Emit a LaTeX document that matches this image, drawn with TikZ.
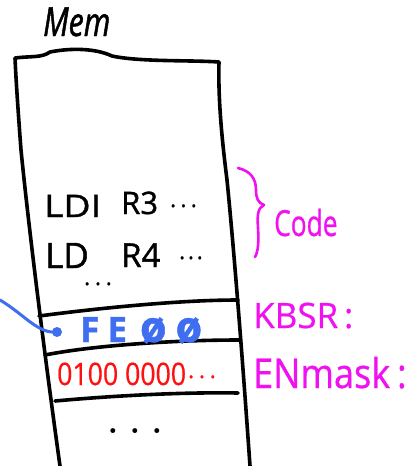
\documentclass[tikz,border=0pt]{standalone}
\usepackage{fontspec}
\newfontfamily\penfont{Open Sans}[FakeBold=1.2]
\newfontfamily\penthin{Open Sans}[FakeBold=0.6]
\definecolor{penblue}{HTML}{3F6FF0}
\definecolor{penred}{HTML}{FF1010}
\definecolor{penpink}{HTML}{F010F0}
\begin{document}
\begin{tikzpicture}[x=1pt,y=-1pt,
  pen/.style={line width=3.6pt,line cap=round,line join=round},
  ink/.style={inner sep=0pt,anchor=base west},
  memtext/.style={ink,font=\penfont\fontsize{31}{31}\selectfont},
  dots/.style={ink,font=\penfont\fontsize{22}{22}\selectfont},
  labeltext/.style={ink,text=penpink,font=\penthin\fontsize{35}{35}\selectfont}]
\useasboundingbox (0,0) rectangle (420,466);

% memory block outline
\draw[pen] (60,466) .. controls (48,380) and (30,240) .. (21,150)
  .. controls (18,110) and (16,80) .. (15,58)
  .. controls (30,56) and (42,58) .. (50,52)
  .. controls (70,48) and (95,48) .. (112,56)
  .. controls (140,62) and (190,60) .. (219,62)
  .. controls (218,100) and (222,140) .. (227,180)
  .. controls (235,260) and (244,380) .. (250,466);

% cell separators
\draw[pen] (39,316) .. controls (100,308) and (180,300) .. (238,300);
\draw[pen] (45,355) .. controls (90,346) and (170,340) .. (240,340);
\draw[pen] (55,401) .. controls (110,396) and (180,392) .. (238,393);

% block title
\node[ink,font=\penfont\itshape\fontsize{40}{40}\selectfont\addfontfeatures{FakeStretch=0.76}] (mem) at (43,36) {Mem};

% code cell
\node[memtext,font=\penfont\fontsize{31}{31}\selectfont\addfontfeatures{FakeStretch=1.2}] (ldi) at (44,217) {LDI};
\node[memtext] (r3) at (121,214) {R3};
\node[dots] (d1) at (170,207) {.\hspace{4.5pt}.\hspace{4.5pt}.};
\node[memtext,font=\penfont\fontsize{35}{35}\selectfont] (ld) at (45,268) {LD};
\node[memtext,font=\penfont\fontsize{33}{33}\selectfont] (r4) at (121,267) {R4};
\node[dots] (d2) at (179,259) {.\hspace{3pt}.\hspace{3pt}.};
\node[dots] (d3) at (84,285) {.\hspace{5pt}.\hspace{5pt}.};

% code brace and label
\draw[pen,penpink,line width=2.6pt] (238,168) .. controls (250,171) and (256,178) .. (256,190)
  .. controls (256,198) and (258,203) .. (264,205)
  .. controls (258,208) and (257,214) .. (258,228)
  .. controls (259,242) and (258,252) .. (255,257);
\node[labeltext,font=\penthin\fontsize{36}{36}\selectfont\addfontfeatures{FakeStretch=0.73}] (code) at (274,236) {Code};

% KBSR cell
\node[ink,text=penblue,font=\penfont\bfseries\fontsize{35}{35}\selectfont] (kbsrval) at (80,342)
  {F\hspace{8pt}E\hspace{13pt}{\fontsize{43}{43}\selectfont ø\hspace{9pt}ø}};
\node[labeltext] (kbsr) at (253,328) {KBSR\,:};
\coordinate (ptrstart) at (0,300);
\coordinate (ptrend) at (57,332);
\draw[penblue,line width=3pt,line cap=round] (ptrstart) .. controls (25,315) and (38,334) .. (ptrend);
\fill[penblue] (ptrend) circle (5pt);

% ENmask cell
\node[ink,text=penred,font=\penthin\fontsize{31}{31}\selectfont\addfontfeatures{FakeStretch=0.86}] (enval) at (57,385) {0100 0000};
\node[dots,text=penred,font=\penfont\fontsize{22}{22}\selectfont] (enmore) at (188,378) {.\hspace{5pt}.\hspace{5pt}.};
\node[labeltext,font=\penthin\fontsize{41}{41}\selectfont\addfontfeatures{FakeStretch=0.88}] (enmask) at (253,388) {ENmask\,:};

% remaining memory
\node[ink,anchor=center,font=\fontsize{34}{34}\selectfont\bfseries] (more) at (135,431) {.\,\,.\,\,.};
\end{tikzpicture}
\end{document}
